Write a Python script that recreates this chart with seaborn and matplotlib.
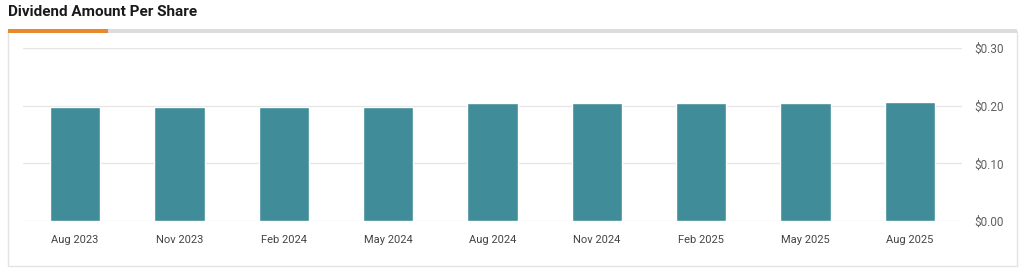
import matplotlib
matplotlib.use("Agg")
import matplotlib.pyplot as plt
import seaborn as sns
import pandas as pd
from matplotlib.patches import Rectangle
from matplotlib.ticker import FuncFormatter

dates = ["Aug 2023", "Nov 2023", "Feb 2024", "May 2024", "Aug 2024",
         "Nov 2024", "Feb 2025", "May 2025", "Aug 2025"]
dividends = [0.198, 0.198, 0.198, 0.198, 0.205, 0.205, 0.205, 0.205, 0.207]
y_ticks = [0.0, 0.1, 0.2, 0.3]

sns.set_theme(style="white")
plt.rcParams['font.family'] = ['Roboto', 'DejaVu Sans']

W, H = 1024, 270
fig = plt.figure(figsize=(W / 100, H / 100), dpi=100)
fig.patch.set_facecolor("white")

def fx(px):
    return px / W

def fy(py):
    return 1 - py / H

# card border
fig.patches.append(Rectangle((fx(8), fy(266)), fx(1017 - 8), (266 - 31) / H,
                             transform=fig.transFigure, facecolor="white",
                             edgecolor="#e3e3e3", lw=1, zorder=0))
# top grey bar and orange accent
fig.patches.append(Rectangle((fx(8), fy(33)), fx(1017 - 8), 4 / H,
                             transform=fig.transFigure, facecolor="#dcdcdc",
                             edgecolor="none", zorder=1))
fig.patches.append(Rectangle((fx(8), fy(33)), fx(108 - 8), 4 / H,
                             transform=fig.transFigure, facecolor="#e8892b",
                             edgecolor="none", zorder=2))

fig.text(fx(8), fy(12), "Dividend Amount Per Share", fontsize=11,
         fontweight="bold", color="#1a1a1a", va="center", ha="left")

ax = fig.add_axes([fx(23), fy(221), fx(962 - 23), (221 - 48) / H])
ax.set_zorder(5)
ax.set_facecolor("none")
df = pd.DataFrame({"date": dates, "dividend": dividends})
sns.barplot(data=df, x="date", y="dividend", color="#408d99", width=0.48,
            saturation=1, ax=ax, zorder=3)

ax.set_xlim(-0.5, len(dates) - 0.5)
ax.set_ylim(0, 0.30)
ax.set_yticks(y_ticks)
ax.yaxis.set_major_formatter(FuncFormatter(lambda v, p: f"${v:.2f}"))
ax.yaxis.tick_right()
ax.grid(axis="y", color="#e6e6e6", lw=1, zorder=0)
ax.set_axisbelow(True)
for s in ax.spines.values():
    s.set_visible(False)
ax.tick_params(axis="y", length=0, pad=9, labelsize=8.5, labelcolor="#5f5f5f")
ax.tick_params(axis="x", length=0, pad=10, labelsize=8, labelcolor="#444444")
ax.set_xlabel("")
ax.set_ylabel("")

fig.savefig("out.png", dpi=100)
